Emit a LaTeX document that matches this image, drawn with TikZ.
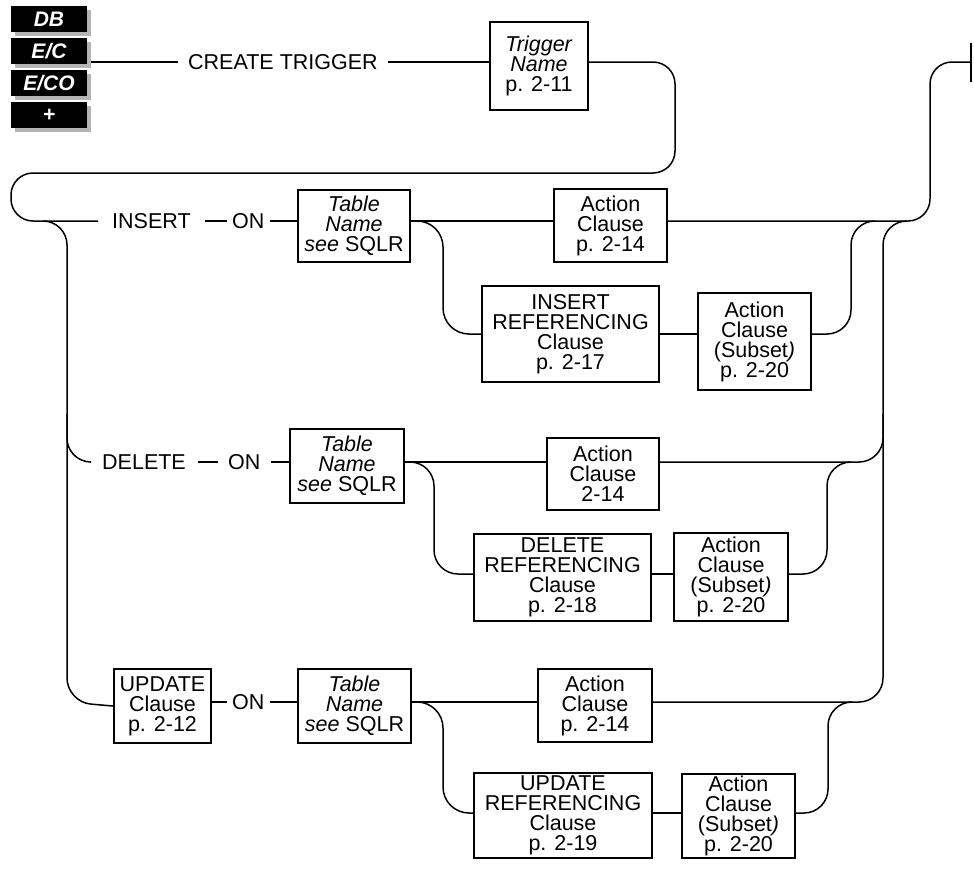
\documentclass[tikz,border=0pt]{standalone}
\usepackage{fontspec}
\setmainfont{Liberation Sans}
\usetikzlibrary{shadows}
\definecolor{shadowgray}{RGB}{180,180,180}
\tikzset{
  conn/.style={line width=1.5pt, rounded corners=24pt},
  sbox/.style={draw, line width=2.4pt, inner sep=0pt, align=center,
    font=\fontsize{21.5}{20}\selectfont},
  lbl/.style={inner ysep=2pt, anchor=west, font=\fontsize{21.5}{24}\selectfont},
  badge/.style={fill=black, text=white, minimum width=76pt, minimum height=26pt,
    inner sep=0pt, font=\fontsize{21}{24}\selectfont\bfseries\itshape,
    drop shadow={shadow xshift=4pt, shadow yshift=-4pt, fill=shadowgray, opacity=1}}
}
\begin{document}
\begin{tikzpicture}[x=1pt,y=-1pt]
\useasboundingbox (0,0) rectangle (974,868);

% badges
\node[badge] (b1) at (49,19) {DB};
\node[badge] (b2) at (49,51) {E/C};
\node[badge] (b3) at (49,83) {E/CO};
\node[badge] (b4) at (49,115) {+};

% row coordinates
\coordinate (r0) at (0,62);
\coordinate (r1) at (0,221);
\coordinate (r1b) at (0,334);
\coordinate (r2) at (0,462);
\coordinate (r2b) at (0,574);
\coordinate (r3) at (0,702);
\coordinate (r3b) at (0,813);
\coordinate (s0) at (91,62);
\coordinate (endpt) at (971,62);

% labels
\node[lbl, inner xsep=10pt] (ct) at (178,62) {CREATE TRIGGER};
\node[lbl, inner xsep=14pt] (ins) at (98,221) {INSERT};
\node[lbl, inner xsep=5pt] (on1) at (227,221) {ON};
\node[lbl, inner xsep=12pt] (del) at (90,462) {DELETE};
\node[lbl, inner xsep=10pt] (on2) at (218,462) {ON};
\node[lbl, inner xsep=5pt] (on3) at (227,702) {ON};

% boxes
\node[sbox, minimum width=98pt, minimum height=88pt] (trig) at (539,66)
  {\textit{Trigger}\\\textit{Name}\\p. 2-11};
\node[sbox, minimum width=112pt, minimum height=72pt] (tn1) at (354,226)
  {\textit{Table}\\\textit{Name}\\\textit{see} SQLR};
\node[sbox, minimum width=113pt, minimum height=73pt] (ac1) at (610.5,225.5)
  {Action\\Clause\\p. 2-14};
\node[sbox, minimum width=177pt, minimum height=96pt] (ir) at (570.5,334)
  {INSERT\\REFERENCING\\Clause\\p. 2-17};
\node[sbox, minimum width=113pt, minimum height=97pt] (as1) at (754.5,341.5)
  {Action\\Clause\\(Subset\textit{)}\\p. 2-20};
\node[sbox, minimum width=114pt, minimum height=74pt] (tn2) at (347,466)
  {\textit{Table}\\\textit{Name}\\\textit{see} SQLR};
\node[sbox, minimum width=112pt, minimum height=72pt] (ac2) at (603,474)
  {Action\\Clause\\2-14};
\node[sbox, minimum width=177pt, minimum height=87pt] (dr) at (562.5,577.5)
  {DELETE\\REFERENCING\\Clause\\p. 2-18};
\node[sbox, minimum width=114pt, minimum height=88pt] (as2) at (731,577)
  {Action\\Clause\\(Subset\textit{)}\\p. 2-20};
\node[sbox, minimum width=97pt, minimum height=74pt] (upd) at (162.5,706)
  {UPDATE\\Clause\\p. 2-12};
\node[sbox, minimum width=113pt, minimum height=74pt] (tn3) at (354.5,706)
  {\textit{Table}\\\textit{Name}\\\textit{see} SQLR};
\node[sbox, minimum width=114pt, minimum height=73pt] (ac3) at (595,705.5)
  {Action\\Clause\\p. 2-14};
\node[sbox, minimum width=178pt, minimum height=85pt] (ur) at (563,815.5)
  {UPDATE\\REFERENCING\\Clause\\p. 2-19};
\node[sbox, minimum width=113pt, minimum height=84pt] (as3) at (738.5,816)
  {Action\\Clause\\(Subset\textit{)}\\p. 2-20};

% top line
\draw[conn] (s0) -- (ct.west);
\draw[conn] (ct.east) -- (trig.west |- r0);
\draw[conn, rounded corners=22pt] (trig.east |- r0) -- (675,62) -- (675,173)
  -- (11,173) -- (11,221) -- (ins.west);

% left vertical and branches
\draw[conn] (43,221) -- (67,221) -- (67,702) -- (upd.west);
\draw[conn] (67,414) -- (67,462) -- (del.west);

% INSERT row
\draw[conn] (ins.east) -- (on1.west);
\draw[conn] (on1.east) -- (tn1.west |- r1);
\draw[conn] (tn1.east |- r1) -- (ac1.west |- r1);
\draw[conn, rounded corners=22pt] (ac1.east |- r1) -- (930,221) -- (930,62) -- (endpt);
\draw[line width=2.6pt] ([yshift=19.5pt]endpt) -- ([yshift=-19.5pt]endpt);
\draw[conn, rounded corners=26pt] (tn1.east |- r1) -- (443,221) -- (443,334) -- (ir.west |- r1b);
\draw[conn] (ir.east |- r1b) -- (as1.west |- r1b);
\draw[conn] (as1.east |- r1b) -- (851,334) -- (851,221) -- (875,221);

% right vertical
\draw[conn] (ac3.east |- r3) -- (883,702) -- (883,221) -- (907,221);

% DELETE row
\draw[conn] (del.east) -- (on2.west);
\draw[conn] (on2.east) -- (tn2.west |- r2);
\draw[conn] (tn2.east |- r2) -- (ac2.west |- r2);
\draw[conn] (ac2.east |- r2) -- (883,462) -- (883,414);
\draw[conn] (tn2.east |- r2) -- (434,462) -- (434,574) -- (dr.west |- r2b);
\draw[conn] (dr.east |- r2b) -- (as2.west |- r2b);
\draw[conn] (as2.east |- r2b) -- (827,574) -- (827,462) -- (851,462);

% UPDATE row
\draw[conn] (upd.east |- r3) -- (on3.west);
\draw[conn] (on3.east) -- (tn3.west |- r3);
\draw[conn] (tn3.east |- r3) -- (ac3.west |- r3);
\draw[conn, rounded corners=26pt] (tn3.east |- r3) -- (443,702) -- (443,813) -- (ur.west |- r3b);
\draw[conn] (ur.east |- r3b) -- (as3.west |- r3b);
\draw[conn] (as3.east |- r3b) -- (828,813) -- (828,702) -- (852,702);
\end{tikzpicture}
\end{document}
